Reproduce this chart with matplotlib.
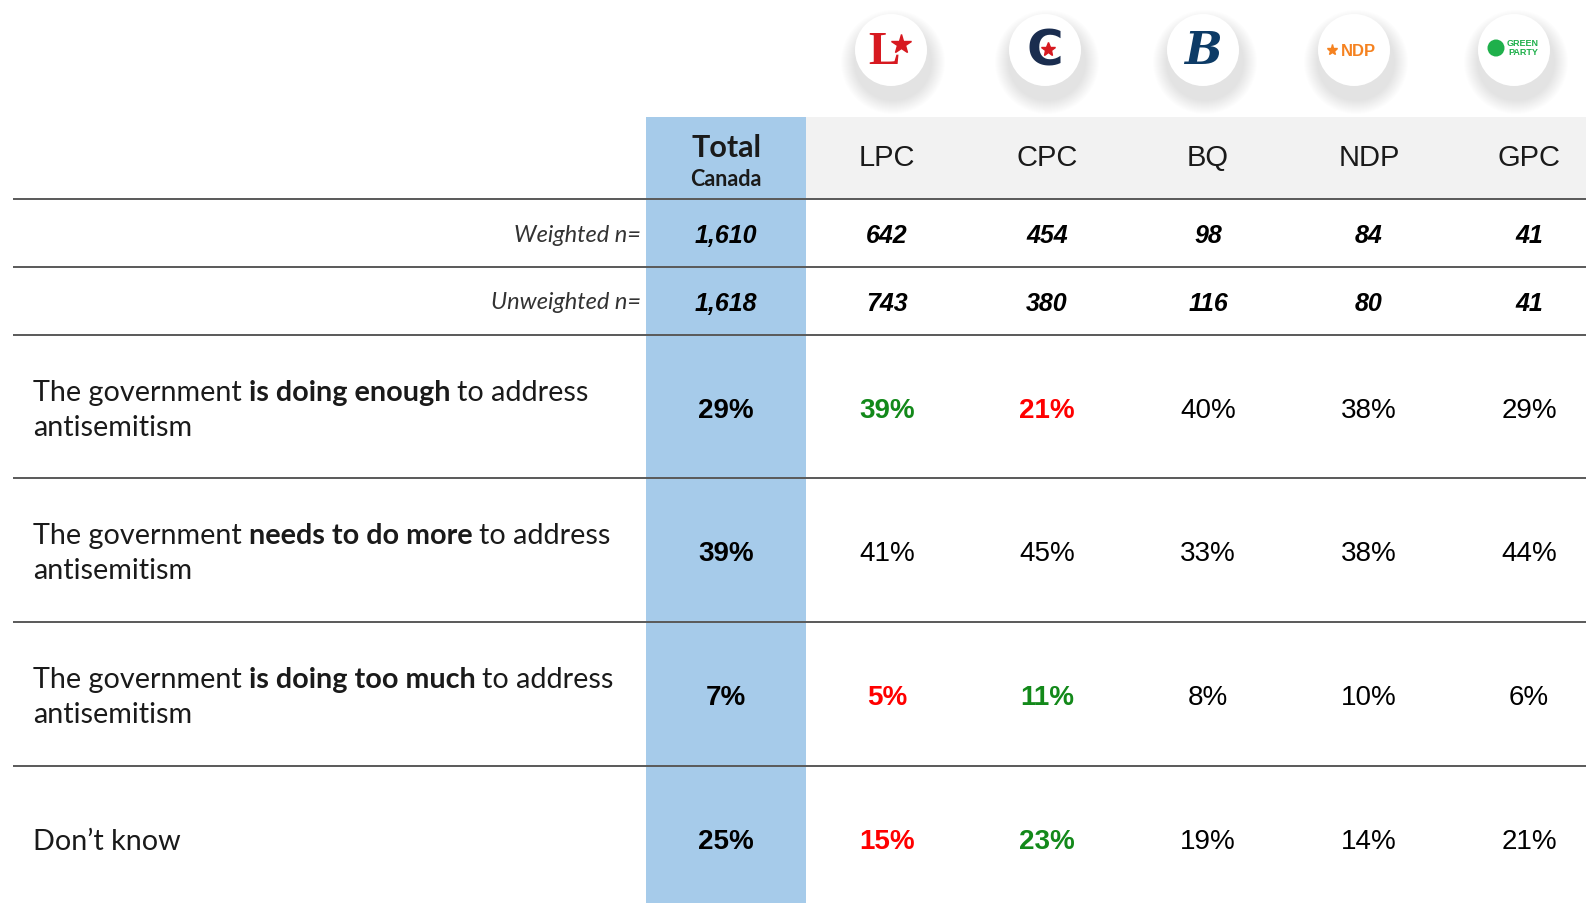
import numpy as np
import matplotlib.pyplot as plt
from matplotlib.patches import Rectangle, Circle

# column headers and sample sizes
parties = ["LPC", "CPC", "BQ", "NDP", "GPC"]
weighted_n = ["1,610", "642", "454", "98", "84", "41"]
unweighted_n = ["1,618", "743", "380", "116", "80", "41"]

# answer labels: (text, bold) pieces, line break marked with "\n"
answers = [
    [("The government", False), ("is doing enough", True), ("to address", False), ("\nantisemitism", False)],
    [("The government", False), ("needs to do more", True), ("to address", False), ("\nantisemitism", False)],
    [("The government", False), ("is doing too much", True), ("to address", False), ("\nantisemitism", False)],
    [("Don\u2019t know", False)],
]

# percentages: Total, LPC, CPC, BQ, NDP, GPC
values = [
    [29, 39, 21, 40, 38, 29],
    [39, 41, 45, 33, 38, 44],
    [7, 5, 11, 8, 10, 6],
    [25, 15, 23, 19, 14, 21],
]
# significance vs total: +1 higher, -1 lower, 0 none
sig = [
    [0, 1, -1, 0, 0, 0],
    [0, 0, 0, 0, 0, 0],
    [0, -1, 1, 0, 0, 0],
    [0, -1, 1, 0, 0, 0],
]

W, H = 1586, 904
fig = plt.figure(figsize=(W / 100, H / 100), dpi=100)
ax = fig.add_axes([0, 0, 1, 1])
ax.set_xlim(0, W)
ax.set_ylim(H, 0)
ax.axis("off")

blue = "#a6cbea"
green = "#13891a"
red = "#ff0000"
line_col = "#595959"
txt = "#1a1a1a"

col_x = [726, 887, 1047, 1208, 1369, 1529]
col_w = 160
head_top, head_bot = 118, 199
row_lines = [200, 268, 336, 479, 623, 767]
row_y = [411, 554, 698, 842]

# header band and total column
ax.add_patch(Rectangle((col_x[0] + col_w / 2, head_top), W, head_bot - head_top, color="#f2f2f2", lw=0, zorder=0))
ax.add_patch(Rectangle((col_x[0] - col_w / 2, head_top), col_w, H - head_top, color=blue, lw=0, zorder=0))

for y in row_lines:
    ax.plot([13, W], [y, y], color=line_col, lw=1.4, zorder=2, solid_capstyle="butt")

# headers
ax.text(col_x[0], 148, "Total", ha="center", va="center", fontsize=22, fontweight="bold",
        family="Lato", color=txt)
ax.text(col_x[0], 180, "Canada", ha="center", va="center", fontsize=15.5, fontweight="bold",
        family="Lato", color=txt)
for i, p in enumerate(parties):
    ax.text(col_x[i + 1], 158, p, ha="center", va="center", fontsize=21, family="Liberation Sans", color=txt)

# sample sizes
for y, lab, ns in [(235, "Weighted n=", weighted_n), (303, "Unweighted n=", unweighted_n)]:
    ax.text(641, y, lab, ha="right", va="center", fontsize=17, style="italic", family="Lato", color="#333333")
    for x, n in zip(col_x, ns):
        ax.text(x, y + 1, n, ha="center", va="center", fontsize=18, fontweight="bold", style="italic",
                family="Liberation Sans", color="black")

# answer labels with bold pieces
fig.canvas.draw()
renderer = fig.canvas.get_renderer()
for r, pieces in enumerate(answers):
    n_lines = 1 + sum(p[0].startswith("\n") for p in pieces)
    y = row_y[r] - (n_lines - 1) * 35 / 2
    x = 33
    for text, bold in pieces:
        if text.startswith("\n"):
            text = text[1:]
            y += 35
            x = 33
        t = ax.text(x, y, text, ha="left", va="center", fontsize=20.7, family="Lato",
                    fontweight="bold" if bold else "normal", color=txt)
        bb = t.get_window_extent(renderer)
        x += bb.width + 7

# values
for r, row in enumerate(values):
    for c, v in enumerate(row):
        s = sig[r][c]
        color = green if s > 0 else red if s < 0 else "black"
        weight = "bold" if (c == 0 or s != 0) else "normal"
        ax.text(col_x[c], row_y[r], f"{v}%", ha="center", va="center", fontsize=20,
                fontweight=weight, family="Liberation Sans", color=color)

# party logos
logo_x = [891, 1045, 1203, 1354, 1514]
logo_y = 51
for x in logo_x:
    for k in range(14):
        ax.add_patch(Circle((x + 2, logo_y + 12), 36 + 16 - k, color="black", alpha=0.008, lw=0, zorder=3))
    ax.add_patch(Circle((x, logo_y), 36, color="white", lw=0, zorder=4))

ax.text(logo_x[0] - 7, logo_y + 2, "L", ha="center", va="center", fontsize=34, fontweight="bold",
        family="Liberation Serif", color="#d71920", zorder=5)
ax.plot(logo_x[0] + 10, logo_y - 6, marker="*", ms=15, color="#d71920", zorder=5)
ax.text(logo_x[1], logo_y, "C", ha="center", va="center", fontsize=36, fontweight="bold",
        family="DejaVu Sans", color="#1a2d4f", zorder=5)
ax.plot(logo_x[1] + 3, logo_y - 1, marker="*", ms=10, color="#d71920", zorder=6)
ax.text(logo_x[2], logo_y, "B", ha="center", va="center", fontsize=32, fontweight="bold", style="italic",
        family="DejaVu Serif", color="#0d3b66", zorder=5)
ax.text(logo_x[3] + 4, logo_y, "NDP", ha="center", va="center", fontsize=12, fontweight="bold",
        family="Liberation Sans", color="#f58220", zorder=5)
ax.plot(logo_x[3] - 22, logo_y, marker="*", ms=8, color="#f58220", zorder=5)
ax.add_patch(Circle((logo_x[4] - 18, logo_y - 2), 8.5, color="#1fb04b", lw=0, zorder=5))
ax.text(logo_x[4] + 9, logo_y - 3, "GREEN\nPARTY", ha="center", va="center", fontsize=6.5,
        fontweight="bold", family="Liberation Sans", color="#1fb04b", linespacing=0.9, zorder=5)

fig.savefig("out.png", dpi=100)
